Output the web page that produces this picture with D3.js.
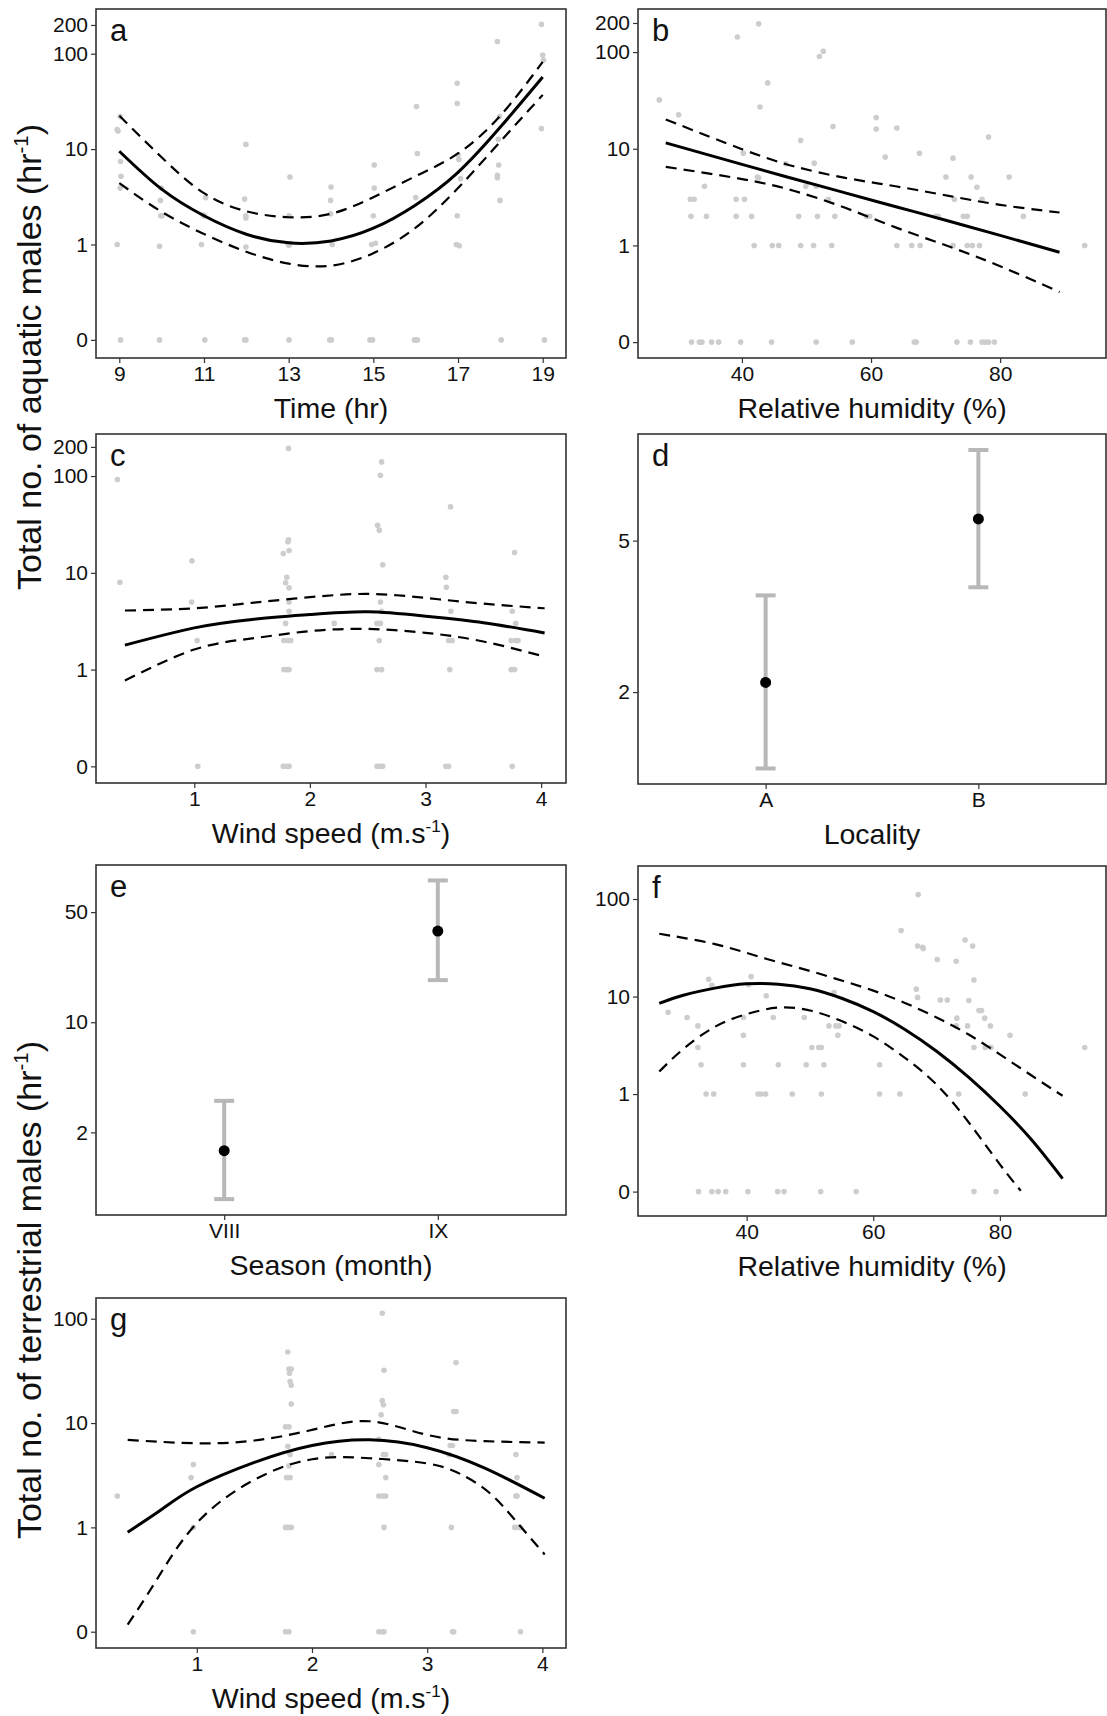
<!DOCTYPE html>
<html>
<head>
<meta charset="utf-8">
<script src="https://cdn.jsdelivr.net/npm/d3@7"></script>
<style>
  body { margin: 0; background: #fff; }
  svg { display: block; font-family: 'Liberation Sans', Arial, Helvetica, sans-serif; }
</style>
</head>
<body>
<div id="chart-container"></div>
<script>
// ---- data ----
// a: time of day
const xFitA = [9, 10, 11, 12, 13, 14, 15, 16, 17, 18, 19];
const fitA = [9.5, 3.8, 2.0, 1.28, 1.04, 1.09, 1.48, 2.6, 5.7, 17, 57];
const uprA = [22.4, 8.2, 3.45, 2.23, 1.93, 2.1, 3.13, 5.2, 9.0, 22.4, 82];
const lwrA = [4.4, 2.2, 1.29, 0.84, 0.63, 0.6, 0.81, 1.5, 3.9, 12, 37];
const ptsA = [
  [8.95, 16], [8.97, 15.5], [9.02, 21.9], [9.03, 7.4], [9.04, 5.2], [9.02, 3.9], [8.95, 1], [9.03, 0],
  [9.97, 2.9], [9.98, 2], [10.01, 2], [9.99, 3.9], [9.95, 0.96], [9.95, 0],
  [11.04, 3.1], [11.01, 2], [10.98, 2.05], [11, 2], [10.94, 1], [11.02, 0],
  [11.99, 11.2], [11.96, 3], [11.99, 2], [11.99, 1.9], [11.99, 0.94], [11.99, 0], [11.96, 0],
  [13.03, 5.1], [13.01, 2], [12.99, 1], [13.01, 0.98], [13.03, 1.02], [13.01, 0],
  [14, 4], [13.99, 2.9], [13.99, 2.1], [14.03, 1], [13.97, 0], [14.01, 0],
  [15.02, 6.8], [15.02, 3.9], [15, 2], [14.96, 1], [15.05, 1.03], [14.92, 0], [14.98, 0],
  [16.02, 27.9], [16.04, 9], [16, 3.1], [15.97, 0], [16, 0], [16.04, 0],
  [16.98, 49], [16.98, 30], [17, 8.7], [17.02, 7.8], [17.06, 4.9], [16.98, 2], [16.96, 1], [17.03, 0.97],
  [17.93, 134], [17.98, 21.9], [17.95, 12.7], [17.96, 6.8], [17.93, 5.3], [17.93, 5], [17.99, 2.9], [18.02, 0],
  [18.97, 203], [19, 97], [19.02, 86], [18.97, 16.4], [19.04, 0]
];

// b: relative humidity (aquatic)
const xFitB = [28.2, 40, 48, 56, 64, 72, 80, 89.2];
const fitB = [11.5, 6.9, 4.9, 3.5, 2.5, 1.79, 1.27, 0.85];
const uprB = [20.1, 9.9, 6.6, 5.0, 4.07, 3.26, 2.63, 2.19];
const lwrB = [6.5, 4.86, 3.68, 2.45, 1.52, 0.98, 0.61, 0.33];
const ptsB = [
  [27.2, 32], [30.2, 22.5], [32, 3], [32.6, 3], [32.1, 2], [34.2, 4.1], [34.5, 2],
  [32.2, 0], [33.4, 0], [33.8, 0], [35.3, 0], [36.4, 0],
  [39.3, 143], [42.6, 196], [44, 48], [42.8, 27], [39.1, 3], [40.4, 3], [39.1, 2], [41.5, 2],
  [40.2, 9], [42.4, 5.1], [42.6, 5], [41.9, 1], [44.7, 1], [45.7, 1], [39.8, 0], [44.6, 0],
  [46.8, 7], [49.1, 12.2], [49.9, 4.1], [48.8, 2], [49.1, 1], [51.2, 7.1], [51.5, 4.1], [51.7, 2],
  [51.1, 1], [51.5, 0], [52, 90], [52.6, 102], [53.4, 3], [54.1, 17], [54.4, 2], [53.9, 1], [57.1, 0],
  [59.3, 2], [59.8, 2], [60.8, 21], [60.8, 16], [62.2, 8.2], [64, 16.4], [64, 1], [66.3, 1],
  [66.7, 0], [67, 0], [67.5, 9], [67.6, 1], [70, 2], [70.4, 2], [71.6, 5.1], [72.7, 8], [72.9, 3],
  [72.7, 1], [73.3, 0], [74.3, 2], [74.9, 2], [74.9, 1], [75.5, 5.1], [75.7, 1], [75.4, 0],
  [76.4, 4], [76.8, 1], [77.2, 3], [77.2, 0], [77.7, 0], [78.2, 0], [79.1, 0], [78.2, 13.2],
  [81.4, 5.1], [83.6, 2], [93.1, 1]
];

// c: wind speed (aquatic)
const xFitC = [0.4, 1, 1.5, 2, 2.5, 3, 3.5, 4.03];
const fitC = [1.79, 2.7, 3.3, 3.7, 3.95, 3.56, 3.05, 2.39];
const uprC = [4.08, 4.3, 4.9, 5.6, 6.05, 5.5, 4.8, 4.3];
const lwrC = [0.77, 1.61, 2.1, 2.5, 2.63, 2.4, 1.95, 1.36];
const ptsC = [
  [0.335, 92], [0.357, 8], [0.98, 13.3], [0.977, 5], [1.025, 2], [1.03, 0],
  [1.815, 193], [1.815, 22], [1.81, 21], [1.82, 17], [1.77, 15.8], [1.8, 9], [1.79, 7.9], [1.82, 7],
  [1.82, 5], [1.82, 4], [1.79, 3], [1.775, 2], [1.81, 2], [1.835, 2], [1.775, 1], [1.8, 1], [1.82, 1],
  [1.77, 0], [1.8, 0], [1.82, 0], [2.21, 3],
  [2.62, 140], [2.61, 102], [2.585, 31], [2.6, 27.6], [2.63, 12.1], [2.61, 5], [2.62, 4], [2.58, 3],
  [2.61, 3], [2.6, 2], [2.58, 1], [2.62, 1], [2.58, 0], [2.6, 0], [2.63, 0],
  [3.216, 48], [3.176, 9], [3.18, 7.1], [3.22, 4], [3.2, 2], [3.23, 2], [3.21, 1], [3.176, 0], [3.2, 0],
  [3.77, 16.2], [3.75, 4], [3.78, 3], [3.74, 2], [3.78, 2], [3.8, 2], [3.74, 1], [3.77, 1], [3.75, 0]
];

// d: locality (mean with interval)
const catsD = ['A', 'B'];
const meanD = [2.12, 5.7];
const loD = [1.26, 3.77];
const hiD = [3.59, 8.65];

// e: season (mean with interval)
const catsE = ['VIII', 'IX'];
const meanE = [1.53, 37.9];
const loE = [0.754, 18.5];
const hiE = [3.17, 79.4];

// f: relative humidity (terrestrial)
const xFitF = [26.2, 30, 35, 40, 45, 50, 55, 60, 65, 70, 75, 80, 85, 89.9];
const fitF = [8.5, 10.3, 12.2, 13.5, 13.4, 12.0, 9.6, 7.0, 4.6, 2.75, 1.5, 0.75, 0.34, 0.136];
const uprF = [44, 40, 34.5, 28, 22.5, 18.3, 14.6, 11.5, 8.6, 6.1, 4.1, 2.55, 1.55, 0.96];
const xLwrF = [26.2, 30, 35, 40, 45, 50, 55, 60, 65, 70, 75, 80, 83.3];
const lwrF = [1.7, 2.9, 4.9, 6.6, 7.7, 7.2, 5.6, 3.9, 2.35, 1.25, 0.52, 0.19, 0.102];
const ptsF = [
  [27.6, 6.9], [30.6, 6.1], [32.3, 5], [32.3, 3], [32.8, 2], [34, 15], [34.5, 13], [33.6, 1], [34.8, 1],
  [32.4, 0], [34.5, 0], [35.5, 0], [36.7, 0],
  [39.5, 6.1], [39.5, 4], [39.5, 2], [40.3, 13.2], [40.7, 16], [40.2, 0],
  [43.1, 10.2], [41.8, 1], [42.3, 1], [43, 1], [44.2, 6.1], [45, 2], [44.9, 0], [45.9, 0],
  [47.2, 1], [49.1, 6.1], [49.4, 2], [50.3, 3], [51.4, 3], [51.8, 3], [51.8, 1], [52.2, 2], [51.7, 0],
  [53, 5], [53.8, 11], [54.1, 5], [54.6, 5], [54.4, 4], [57.3, 0],
  [61, 2], [61, 1], [64.4, 47.6], [64.2, 1],
  [67.1, 111], [67, 33], [67.8, 32], [67.9, 31], [66.8, 11.9], [67, 9.8],
  [70.1, 24], [70.6, 9.2], [71.7, 9.2], [73.1, 23], [73.2, 6], [73.1, 5], [73.5, 1],
  [74.5, 38], [75.7, 33], [75.9, 14.8], [75.1, 9.1], [74.9, 5], [75.9, 3],
  [76.7, 7.2], [77.1, 7.2], [77.6, 6], [78.5, 5], [77.7, 3], [78.6, 3],
  [75.9, 0], [79.4, 0], [81.6, 4], [84, 1], [93.4, 3]
];

// g: wind speed (terrestrial)
const xFitG = [0.4, 0.7, 1, 1.5, 2, 2.5, 3, 3.5, 4.02];
const fitG = [0.9, 1.5, 2.45, 4.2, 6.1, 6.9, 5.8, 3.7, 1.9];
const xUprG = [0.4, 1, 1.5, 2, 2.5, 3, 3.5, 4.02];
const uprG = [6.9, 6.4, 6.8, 8.6, 10.4, 7.7, 6.7, 6.5];
const xLwrG = [0.4, 0.64, 1, 1.5, 2, 2.5, 3, 3.3, 3.55, 3.77, 4.02];
const lwrG = [0.117, 0.3, 1.1, 2.86, 4.5, 4.6, 4.1, 3.2, 2.1, 1.15, 0.55];
const ptsG = [
  [0.31, 2], [0.97, 4], [0.95, 3], [0.97, 1], [0.97, 0],
  [1.79, 48], [1.8, 33], [1.82, 33], [1.805, 30], [1.81, 25], [1.82, 23], [1.82, 15.2], [1.77, 9.2],
  [1.8, 9.2], [1.79, 6], [1.81, 5], [1.8, 3.9], [1.78, 3], [1.81, 3], [1.77, 1], [1.79, 1], [1.82, 1],
  [1.77, 0], [1.8, 0], [2.17, 5],
  [2.61, 113], [2.625, 32], [2.61, 16.4], [2.62, 15], [2.6, 12], [2.58, 7], [2.62, 5], [2.64, 5],
  [2.58, 4], [2.64, 3], [2.58, 2], [2.61, 2], [2.64, 2], [2.625, 1], [2.58, 0], [2.61, 0], [2.625, 0],
  [3.25, 38], [3.23, 12.9], [3.25, 12.9], [3.2, 6.1], [3.22, 6.1], [3.19, 5], [3.21, 1], [3.22, 0], [3.23, 0],
  [3.77, 5], [3.78, 3], [3.77, 2], [3.78, 2], [3.76, 1], [3.79, 1], [3.81, 1], [3.81, 0]
];

// tick labels
const ticksCount = [0, 1, 10, 100, 200];
const ticksCountF = [0, 1, 10, 100];
const ticksD = [2, 5];
const ticksE = [2, 10, 50];
const ticksTime = [9, 11, 13, 15, 17, 19];
const ticksRH = [40, 60, 80];
const ticksWind = [1, 2, 3, 4];

// ---- drawing ----
const W = 1107, H = 1716;
const ZERO = 0.1; // zero counts sit one decade below 1 on the log axis
const ink = '#111';

const svg = d3.select('#chart-container').append('svg')
  .attr('width', W).attr('height', H);
svg.append('rect').attr('width', W).attr('height', H).attr('fill', '#fff');

// text with optional superscript pieces: [[text, isSup], ...]
function richText(sel, parts, size) {
  parts.forEach(([t, sup], i) => {
    const ts = sel.append('tspan').text(t);
    if (sup) ts.attr('font-size', size * 0.6).attr('dy', -size * 0.38);
    else if (i > 0 && parts[i - 1][1]) ts.attr('dy', size * 0.38);
  });
}

function panel(o) {
  const g = svg.append('g');
  const b = o.box;
  const x = o.cats
    ? d3.scalePoint().domain(o.cats).range([b.x0, b.x1]).padding(0.6)
    : d3.scaleLinear().domain(o.xDomain).range([b.x0, b.x1]);
  const y = d3.scaleLog().domain(o.yDomain).range([b.y1, b.y0]);
  const yv = v => y(v > 0 ? v : ZERO);

  // x axis
  g.append('g')
    .attr('transform', `translate(0,${b.y1})`)
    .call(d3.axisBottom(x).tickValues(o.xTicks).tickFormat(d => String(d)).tickSize(5).tickPadding(3))
    .call(a => a.select('.domain').remove())
    .call(a => a.attr('font-size', null).attr('font-family', null))
    .call(a => a.selectAll('line').attr('stroke', '#333').attr('stroke-width', 1.2))
    .call(a => a.selectAll('text').attr('fill', ink).style('font-size', '21px'));

  // y axis (zero drawn at ZERO)
  g.append('g')
    .attr('transform', `translate(${b.x0},0)`)
    .call(d3.axisLeft(y)
      .tickValues(o.yTicks.map(v => (v > 0 ? v : ZERO)))
      .tickFormat(v => (v === ZERO ? '0' : String(v)))
      .tickSize(5).tickPadding(3))
    .call(a => a.select('.domain').remove())
    .call(a => a.attr('font-size', null).attr('font-family', null))
    .call(a => a.selectAll('line').attr('stroke', '#333').attr('stroke-width', 1.2))
    .call(a => a.selectAll('text').attr('fill', ink).style('font-size', '21px'));

  // raw observations
  if (o.pts) {
    g.append('g').selectAll('circle').data(o.pts).join('circle')
      .attr('cx', d => x(d[0]))
      .attr('cy', d => yv(d[1]))
      .attr('r', 2.8)
      .attr('fill', '#cdcdcd');
  }

  // fitted curve and confidence band
  const line = d3.line().curve(d3.curveNatural)
    .x(d => x(d[0])).y(d => yv(d[1]));
  const curves = [
    [o.xLwr || o.xFit, o.lwr, true],
    [o.xUpr || o.xFit, o.upr, true],
    [o.xFit, o.fit, false]
  ];
  curves.forEach(([xs, ys, dashed]) => {
    if (!xs || !ys) return;
    g.append('path')
      .datum(xs.map((v, i) => [v, ys[i]]))
      .attr('fill', 'none')
      .attr('stroke', '#000')
      .attr('stroke-width', dashed ? 2.2 : 3)
      .attr('stroke-dasharray', dashed ? '11,7' : null)
      .attr('d', line);
  });

  // means with intervals
  if (o.mean) {
    o.cats.forEach((c, i) => {
      const cx = x(c);
      const eb = g.append('g').attr('stroke', '#b8b8b8').attr('stroke-width', 4);
      eb.append('line').attr('x1', cx).attr('x2', cx).attr('y1', y(o.lo[i])).attr('y2', y(o.hi[i]));
      eb.append('line').attr('x1', cx - 10).attr('x2', cx + 10).attr('y1', y(o.lo[i])).attr('y2', y(o.lo[i]));
      eb.append('line').attr('x1', cx - 10).attr('x2', cx + 10).attr('y1', y(o.hi[i])).attr('y2', y(o.hi[i]));
      g.append('circle').attr('cx', cx).attr('cy', y(o.mean[i])).attr('r', 5.5).attr('fill', '#000');
    });
  }

  // panel border
  g.append('rect')
    .attr('x', b.x0).attr('y', b.y0)
    .attr('width', b.x1 - b.x0).attr('height', b.y1 - b.y0)
    .attr('fill', 'none').attr('stroke', '#333').attr('stroke-width', 1.6);

  // panel letter
  g.append('text')
    .attr('x', b.x0 + 14).attr('y', b.y0 + 32)
    .attr('fill', ink).style('font-size', '31px')
    .text(o.label);

  // axis title
  const t = g.append('text')
    .attr('x', (b.x0 + b.x1) / 2).attr('y', b.y1 + 60)
    .attr('text-anchor', 'middle').attr('fill', ink).style('font-size', '28.5px');
  richText(t, o.xTitle, 28.5);
}

const rh = [['Relative humidity (%)']];
const wind = [['Wind speed (m.s'], ['-1', true], [')']];

panel({ box: { x0: 96, y0: 9, x1: 566, y1: 358 }, label: 'a',
  xDomain: [8.45, 19.55], xTicks: ticksTime, yDomain: [0.0646, 294], yTicks: ticksCount,
  pts: ptsA, xFit: xFitA, fit: fitA, upr: uprA, lwr: lwrA, xTitle: [['Time (hr)']] });

panel({ box: { x0: 638, y0: 9, x1: 1106, y1: 358 }, label: 'b',
  xDomain: [23.9, 96.4], xTicks: ticksRH, yDomain: [0.0685, 279], yTicks: ticksCount,
  pts: ptsB, xFit: xFitB, fit: fitB, upr: uprB, lwr: lwrB, xTitle: rh });

panel({ box: { x0: 96, y0: 434, x1: 566, y1: 783 }, label: 'c',
  xDomain: [0.15, 4.215], xTicks: ticksWind, yDomain: [0.0673, 272], yTicks: ticksCount,
  pts: ptsC, xFit: xFitC, fit: fitC, upr: uprC, lwr: lwrC, xTitle: wind });

panel({ box: { x0: 638, y0: 434, x1: 1106, y1: 784 }, label: 'd',
  cats: catsD, xTicks: catsD, yDomain: [1.147, 9.53], yTicks: ticksD,
  mean: meanD, lo: loD, hi: hiD, xTitle: [['Locality']] });

panel({ box: { x0: 96, y0: 865, x1: 566, y1: 1215 }, label: 'e',
  cats: catsE, xTicks: catsE, yDomain: [0.598, 99.5], yTicks: ticksE,
  mean: meanE, lo: loE, hi: hiE, xTitle: [['Season (month)']] });

panel({ box: { x0: 638, y0: 866, x1: 1106, y1: 1216 }, label: 'f',
  xDomain: [22.84, 96.76], xTicks: ticksRH, yDomain: [0.0562, 218], yTicks: ticksCountF,
  pts: ptsF, xFit: xFitF, fit: fitF, upr: uprF, xLwr: xLwrF, lwr: lwrF, xTitle: rh });

panel({ box: { x0: 96, y0: 1298, x1: 566, y1: 1648 }, label: 'g',
  xDomain: [0.125, 4.205], xTicks: ticksWind, yDomain: [0.0698, 158], yTicks: ticksCountF,
  pts: ptsG, xFit: xFitG, fit: fitG, xUpr: xUprG, upr: uprG, xLwr: xLwrG, lwr: lwrG, xTitle: wind });

// shared y titles
function yTitle(cy, parts) {
  const t = svg.append('text')
    .attr('transform', `translate(41,${cy}) rotate(-90)`)
    .attr('text-anchor', 'middle').attr('fill', ink).style('font-size', '34px');
  richText(t, parts, 34);
}
yTitle(357, [['Total no. of aquatic males (hr'], ['-1', true], [')']]);
yTitle(1290, [['Total no. of terrestrial males (hr'], ['-1', true], [')']]);
</script>
</body>
</html>
